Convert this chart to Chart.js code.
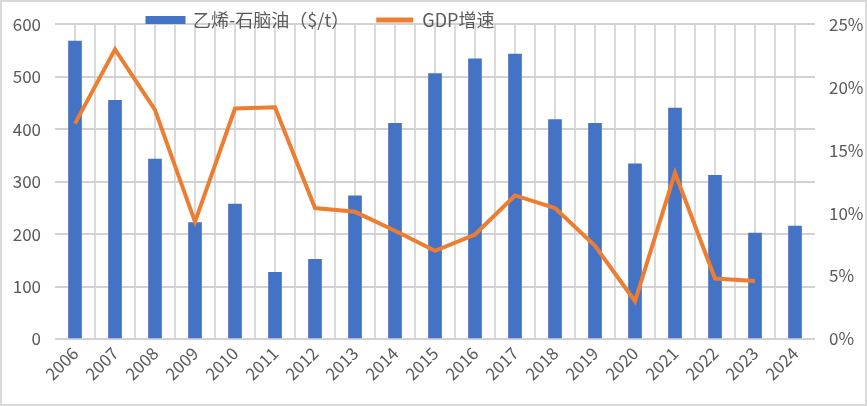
<!DOCTYPE html>
<html>
<head>
<meta charset="utf-8">
<script src="https://cdn.jsdelivr.net/npm/chart.js@4.4.1/dist/chart.umd.min.js"></script>
<style>
  html, body { margin: 0; padding: 0; background: #ffffff; }
  #wrap { position: relative; width: 867px; height: 406px; }
  #frame { position: absolute; left: 0; top: 0; width: 867px; height: 406px; box-sizing: border-box; border: 2px solid #d9d9d9; pointer-events: none; }
</style>
</head>
<body>
<div id="wrap">
  <canvas id="c" width="867" height="406"></canvas>
  <div id="frame"></div>
</div>
<script>
const years = ['2006','2007','2008','2009','2010','2011','2012','2013','2014','2015','2016','2017','2018','2019','2020','2021','2022','2023','2024'];
const spreadValues = [568, 455, 343, 222, 257, 127, 152, 273, 411, 506, 534, 543, 418, 411, 334, 440, 312, 202, 215];
const gdpGrowth = [17.1, 23.0, 18.2, 9.3, 18.3, 18.4, 10.4, 10.1, 8.6, 7.0, 8.3, 11.4, 10.4, 7.4, 3.0, 13.2, 4.8, 4.6, null];
const seriesNames = ['乙烯-石脑油（$/t）', 'GDP增速'];
const leftAxisRange = [0, 600, 100];
const rightAxisRange = [0, 25, 5];

const FONT = "'Noto Sans CJK SC', 'Noto Sans', sans-serif";
const TEXT = '#595959';
const VGRID = '#dadada';
const HGRID = '#d2d2d2';

const legendPlacer = {
  id: 'legendPlacer',
  afterLayout(chart) {
    const lg = chart.legend;
    if (!lg) return;
    lg.left = 120; lg.right = 860;
    lg.top = -16; lg.bottom = 40;
    lg.width = lg.right - lg.left;
    lg.height = lg.bottom - lg.top;
  }
};

new Chart(document.getElementById('c'), {
  data: {
    labels: years,
    datasets: [
      {
        type: 'bar',
        label: seriesNames[0],
        data: spreadValues,
        backgroundColor: '#4472C4',
        borderWidth: 0,
        barThickness: 13,
        xAxisID: 'x',
        yAxisID: 'y',
        order: 1
      },
      {
        type: 'line',
        label: seriesNames[1],
        data: gdpGrowth,
        borderColor: '#ED7D31',
        backgroundColor: '#ED7D31',
        borderWidth: 4,
        pointRadius: 0,
        pointHoverRadius: 0,
        tension: 0,
        fill: false,
        xAxisID: 'x',
        yAxisID: 'y1',
        order: 0
      }
    ]
  },
  options: {
    responsive: false,
    animation: false,
    layout: { padding: { top: 11, left: 0, right: 0, bottom: 0 } },
    plugins: {
      tooltip: { enabled: false },
      legend: {
        display: true,
        position: 'top',
        align: 'start',
        maxHeight: 1,
        labels: {
          font: { family: FONT, size: 18 },
          color: TEXT,
          boxWidth: 37,
          boxHeight: 5,
          padding: 27,
          sort: (a, b) => a.datasetIndex - b.datasetIndex,
          generateLabels(chart) {
            const items = Chart.defaults.plugins.legend.labels.generateLabels(chart);
            return items.map(it => {
              if (it.datasetIndex === 0) {
                it.fillStyle = '#4472C4'; it.strokeStyle = '#4472C4'; it.lineWidth = 3;
              } else {
                it.fillStyle = '#ED7D31'; it.strokeStyle = '#ED7D31'; it.lineWidth = 0;
              }
              return it;
            });
          }
        }
      }
    },
    scales: {
      x: {
        type: 'category',
        position: 'bottom',
        offset: true,
        grid: {
          display: true,
          offset: true,
          drawTicks: false,
          drawOnChartArea: true,
          lineWidth: 2,
          color: (ctx) => (ctx.tick === undefined || ctx.index === 0) ? 'rgba(0,0,0,0)' : VGRID
        },
        border: { display: false },
        ticks: {
          font: { family: FONT, size: 17 },
          color: TEXT,
          minRotation: 45,
          maxRotation: 45,
          padding: 4,
          autoSkip: false
        },
        afterFit(s) { s.height = 67; }
      },
      x2: {
        type: 'category',
        position: 'top',
        offset: true,
        ticks: { display: false, autoSkip: false },
        grid: {
          display: true,
          offset: false,
          drawTicks: false,
          drawOnChartArea: true,
          lineWidth: 2,
          color: VGRID
        },
        border: { display: false },
        afterFit(s) { s.height = 0; }
      },
      y: {
        type: 'linear',
        position: 'left',
        min: leftAxisRange[0],
        max: leftAxisRange[1],
        ticks: {
          stepSize: leftAxisRange[2],
          font: { family: FONT, size: 17 },
          color: TEXT,
          padding: 14
        },
        grid: { color: HGRID, lineWidth: 2, drawTicks: false },
        border: { display: false },
        afterFit(s) { s.width = 55; }
      },
      y1: {
        type: 'linear',
        position: 'right',
        min: rightAxisRange[0],
        max: rightAxisRange[1],
        ticks: {
          stepSize: rightAxisRange[2],
          font: { family: FONT, size: 17 },
          color: TEXT,
          padding: 14,
          callback: (v) => v + '%'
        },
        grid: { display: false, drawTicks: false },
        border: { display: false },
        afterFit(s) { s.width = 52; }
      }
    }
  },
  plugins: [legendPlacer]
});
</script>
</body>
</html>
